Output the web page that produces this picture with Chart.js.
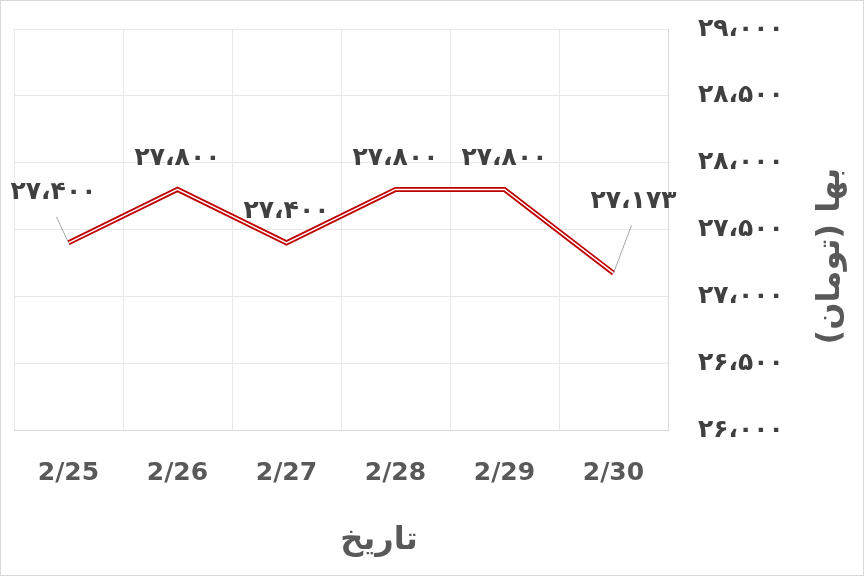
<!DOCTYPE html>
<html>
<head>
<meta charset="utf-8">
<script src="https://cdn.jsdelivr.net/npm/chart.js@4/dist/chart.umd.min.js"></script>
<style>
  html, body { margin: 0; padding: 0; background: #fff; }
  #wrap { width: 862px; height: 574px; border: 1px solid #d9d9d9; }
</style>
</head>
<body>
<div id="wrap"><canvas id="priceChart" width="862" height="574"></canvas></div>
<script>
const dates = ['2/25', '2/26', '2/27', '2/28', '2/29', '2/30'];
const prices = [27400, 27800, 27400, 27800, 27800, 27173];
const priceLabels = ['۲۷،۴۰۰', '۲۷،۸۰۰', '۲۷،۴۰۰', '۲۷،۸۰۰', '۲۷،۸۰۰', '۲۷،۱۷۳'];
const yTicks = { min: 26000, max: 29000, step: 500 };
const xTitle = 'تاریخ';
const yTitle = 'بها (تومان)';

const faDigits = '۰۱۲۳۴۵۶۷۸۹';
function toFa(n) {
    const s = String(n).replace(/\B(?=(\d{3})+(?!\d))/g, '،');
    return s.replace(/\d/g, d => faDigits[d]);
}

const textColor = '#404040';
const font = 'DejaVu Sans, sans-serif';

const labelPlugin = {
    id: 'labels',
    afterDatasetsDraw(c) {
        const ctx = c.ctx;
        const meta = c.getDatasetMeta(0);
        ctx.save();
        ctx.font = 'bold 25px ' + font;
        ctx.fillStyle = textColor;
        ctx.textAlign = 'center';
        ctx.textBaseline = 'middle';
        meta.data.forEach((pt, i) => {
            let x = pt.x, y = pt.y - 31;
            if (i === 0) { x = pt.x - 15; y = pt.y - 50; }
            if (i === 5) { x = pt.x + 20; y = pt.y - 72; }
            if (i === 0 || i === 5) {
                ctx.strokeStyle = '#a6a6a6';
                ctx.lineWidth = 1;
                ctx.beginPath();
                ctx.moveTo(pt.x, pt.y);
                ctx.lineTo(i === 0 ? pt.x - 12 : pt.x + 18, y + 24);
                ctx.stroke();
            }
            ctx.fillText(priceLabels[i], x, y);
        });
        ctx.direction = 'rtl';
        ctx.font = 'bold 32px ' + font;
        ctx.fillStyle = '#595959';
        ctx.fillText(xTitle, 378, 540);
        ctx.translate(830, 255);
        ctx.rotate(-Math.PI / 2);
        ctx.fillText(yTitle, 0, 0);
        ctx.restore();
    }
};

new Chart(document.getElementById('priceChart'), {
    type: 'line',
    data: {
        labels: dates,
        datasets: [
            { data: prices, borderColor: '#ffffff', borderWidth: 1.5, pointRadius: 0, tension: 0, order: 0 },
            { data: prices, borderColor: '#c00000', borderWidth: 5, pointRadius: 0, tension: 0, order: 1 }
        ]
    },
    options: {
        responsive: false,
        animation: false,
        layout: { padding: { left: 13, top: 28, right: 0, bottom: 0 } },
        plugins: { legend: { display: false }, tooltip: { enabled: false } },
        scales: {
            x: {
                offset: true,
                grid: { offset: true, color: '#e8e8e8', drawTicks: false },
                border: { color: '#d9d9d9' },
                ticks: { padding: 28, color: '#595959', font: { family: font, size: 25, weight: 'bold' } },
                afterFit(s) { s.height = 145; s.paddingLeft = 0; s.paddingRight = 0; }
            },
            y: {
                position: 'right',
                min: yTicks.min, max: yTicks.max,
                grid: { color: '#e8e8e8', drawTicks: false },
                border: { color: '#d9d9d9' },
                ticks: {
                    stepSize: yTicks.step, padding: 30, crossAlign: 'near',
                    color: textColor, font: { family: font, size: 25, weight: 'bold' },
                    callback: v => toFa(v)
                },
                afterFit(s) { s.width = 195; s.paddingTop = 0; s.paddingBottom = 0; }
            }
        }
    },
    plugins: [labelPlugin]
});
</script>
</body>
</html>
